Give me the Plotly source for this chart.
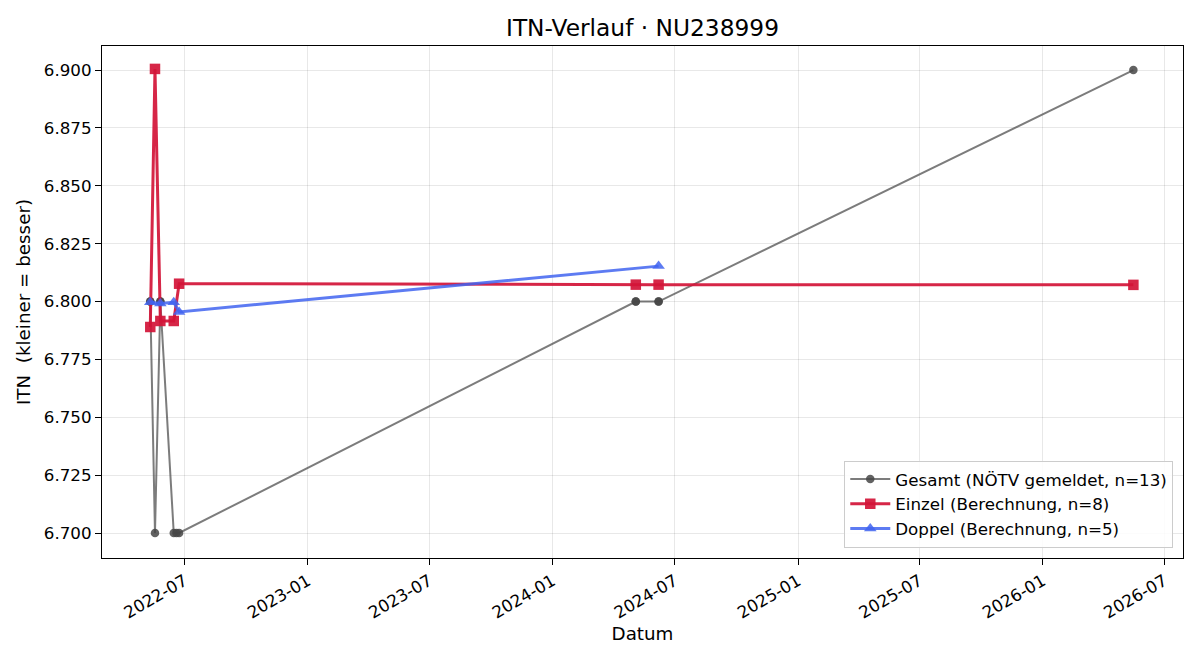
import plotly.graph_objects as go

# Gesamt (NÖTV gemeldet)
gesamt_dates = ["2022-05-11", "2022-05-11", "2022-05-18", "2022-05-26", "2022-05-26",
                "2022-06-15", "2022-06-19", "2022-06-23", "2024-05-04", "2024-05-04",
                "2024-06-07", "2024-06-07", "2026-05-16"]
gesamt_vals = [6.800, 6.800, 6.700, 6.800, 6.800, 6.700, 6.700, 6.700,
               6.800, 6.800, 6.800, 6.800, 6.900]

# Einzel (Berechnung)
einzel_dates = ["2022-05-11", "2022-05-18", "2022-05-26", "2022-06-15", "2022-06-23",
                "2024-05-04", "2024-06-07", "2026-05-16"]
einzel_vals = [6.789, 6.9005, 6.7916, 6.7916, 6.8077, 6.8073, 6.8073, 6.8072]

# Doppel (Berechnung)
doppel_dates = ["2022-05-11", "2022-05-26", "2022-06-15", "2022-06-23", "2024-06-07"]
doppel_vals = [6.7997, 6.7992, 6.7997, 6.7955, 6.8153]

y_ticks = [6.700, 6.725, 6.750, 6.775, 6.800, 6.825, 6.850, 6.875, 6.900]
x_ticks = ["2022-07-01", "2023-01-01", "2023-07-01", "2024-01-01", "2024-07-01",
           "2025-01-01", "2025-07-01", "2026-01-01", "2026-07-01"]
x_tick_text = ["2022-07", "2023-01", "2023-07", "2024-01", "2024-07",
               "2025-01", "2025-07", "2026-01", "2026-07"]

FONT = "DejaVu Sans"

fig = go.Figure()
fig.add_trace(go.Scatter(
    x=gesamt_dates, y=gesamt_vals, mode="lines+markers",
    name="Gesamt (NÖTV gemeldet, n=13)",
    line=dict(color="rgba(80,80,80,0.75)", width=2),
    marker=dict(symbol="circle", size=8.5, color="rgba(70,70,70,0.85)"),
))
fig.add_trace(go.Scatter(
    x=einzel_dates, y=einzel_vals, mode="lines+markers",
    name="Einzel (Berechnung, n=8)",
    line=dict(color="rgba(210,20,55,0.92)", width=3),
    marker=dict(symbol="square", size=10.5, color="rgba(210,20,55,0.92)"),
))
fig.add_trace(go.Scatter(
    x=doppel_dates, y=doppel_vals, mode="lines+markers",
    name="Doppel (Berechnung, n=5)",
    line=dict(color="rgba(65,100,240,0.85)", width=3),
    marker=dict(symbol="triangle-up", size=11, color="rgba(65,100,240,0.85)"),
))

axis_common = dict(
    showline=True, linecolor="black", linewidth=1.2, mirror=True,
    ticks="outside", ticklen=6, tickwidth=1.2, tickcolor="black",
    showgrid=True, gridcolor="rgba(0,0,0,0.09)", gridwidth=1,
    zeroline=False, tickfont=dict(family=FONT, size=16.7, color="black"),
)

fig.update_layout(
    width=1200, height=660,
    paper_bgcolor="white", plot_bgcolor="white",
    margin=dict(l=102, r=17, t=46, b=102),
    font=dict(family=FONT, color="black"),
    title=dict(text="ITN-Verlauf · NU238999", xref="paper", x=0.5, xanchor="center",
               y=1 - 28 / 660, yanchor="middle",
               font=dict(family=FONT, size=23.3, color="black")),
    xaxis=dict(
        **axis_common,
        type="date",
        range=["2022-02-28", "2026-07-29"],
        tickvals=x_ticks, ticktext=x_tick_text, tickangle=-30,
        title=dict(text="Datum", font=dict(family=FONT, size=18.3), standoff=5),
    ),
    yaxis=dict(
        **axis_common,
        range=[6.6892, 6.9104],
        tickvals=y_ticks, tickformat=".3f",
        title=dict(text="ITN  (kleiner = besser)", font=dict(family=FONT, size=18.3), standoff=8),
    ),
    legend=dict(
        x=0.991, y=0.02, xanchor="right", yanchor="bottom",
        bgcolor="rgba(255,255,255,0.85)", bordercolor="#cccccc", borderwidth=1,
        font=dict(family=FONT, size=16.7, color="black"),
        tracegroupgap=0, itemwidth=40,
    ),
    showlegend=True,
)

fig.write_html("out.html")
